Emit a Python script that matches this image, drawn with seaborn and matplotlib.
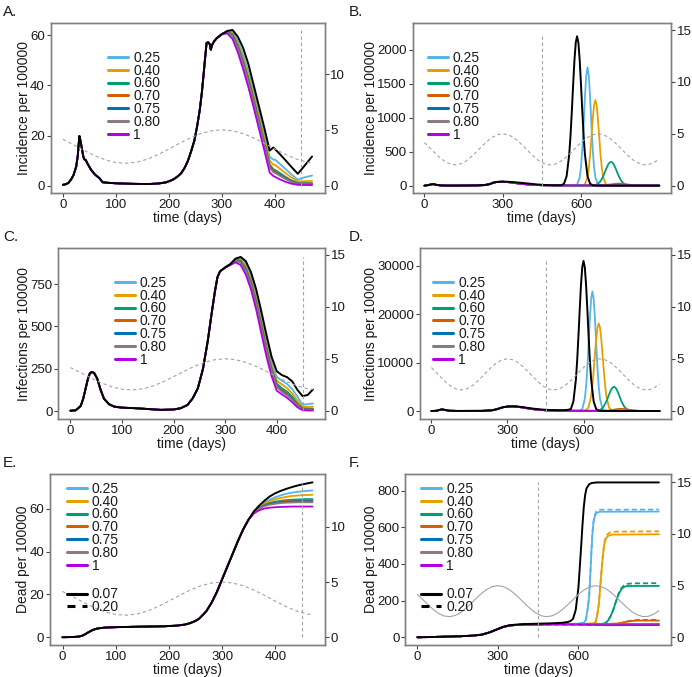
import matplotlib
matplotlib.use("Agg")
import matplotlib.pyplot as plt
import seaborn as sns
from matplotlib.lines import Line2D

# ---------------- data ----------------
levels = ["0.25", "0.40", "0.60", "0.70", "0.75", "0.80", "1"]
level_colors = ["#56B4E9", "#E69F00", "#009E73", "#D55E00", "#0072B2", "#8B7B7B", "#B400E0"]
ifr_labels = ["0.07", "0.20"]
vaccine_day = 450

season_t = [0, 20, 40, 60, 80, 100, 120, 140, 160, 180, 200, 220, 240, 260, 280, 300, 320, 340, 360, 380,
            400, 420, 440, 460, 470, 480, 500, 520, 540, 560, 580, 600, 620, 640, 660, 680, 700, 720, 740,
            760, 780, 800, 820, 840, 860, 880, 900]
season_v = [4.15, 3.66, 3.15, 2.68, 2.30, 2.07, 2.00, 2.11, 2.38, 2.79, 3.28, 3.79, 4.27, 4.66, 4.91, 5.00,
            4.91, 4.66, 4.27, 3.79, 3.28, 2.79, 2.38, 2.11, 2.04, 2.00, 2.07, 2.30, 2.68, 3.15, 3.66, 4.15,
            4.57, 4.86, 4.99, 4.95, 4.74, 4.38, 3.91, 3.40, 2.90, 2.47, 2.17, 2.01, 2.03, 2.23, 2.58]

# ---- Panel A: incidence, short horizon ----
A_t_base = [0, 5, 10, 15, 20, 25, 28, 31, 33, 35, 38, 40, 43, 47, 53, 60, 69, 75, 85, 100, 130, 160, 180,
            195, 207, 215, 223, 230, 236, 242, 248, 253, 258, 262, 265, 268, 271, 274, 277, 279, 281, 285]
A_v_base = [0.3, 0.5, 1.0, 2.3, 4.2, 7.6, 12, 19.8, 18, 15.6, 12, 10.5, 10.2, 8.5, 6.3, 4.5, 2.9, 1.3, 1.1,
            0.9, 0.7, 0.6, 0.8, 1.3, 2.3, 3.4, 4.9, 7.2, 10, 13.8, 18, 23.5, 30, 37, 43.6, 50.5, 57, 57.3,
            56.5, 54.3, 56, 57.6]
A_t_tail = [290, 300, 310, 320, 330, 340, 350, 360, 370, 380, 390, 397, 400, 410, 420, 430, 443, 450, 460, 470]
A_black = [58.9, 60.5, 61.8, 62.2, 59.5, 55, 48.5, 40, 31.5, 23, 14, 15.2, 14.6, 12.4, 10.1, 7.7, 4.7, 6.4, 9.0, 11.6]
A_025 = [58.9, 60.6, 61.8, 61.5, 57.8, 52.5, 45.5, 37.5, 29, 20.5, 11.5, 10.3, 10.4, 8.5, 6.6, 4.7, 2.3, 2.9, 3.5, 4.0]
A_040 = [58.9, 60.6, 61.6, 61.0, 56.8, 51, 44, 36, 27.5, 19, 10, 8.3, 8.3, 6.6, 5, 3.4, 1.6, 1.7, 1.8, 1.9]
A_060 = [58.9, 60.6, 61.4, 60.5, 56, 49.8, 42.8, 34.5, 26, 17.5, 8.5, 6.5, 6.3, 4.9, 3.5, 2.2, 1.0, 1.0, 1.0, 1.0]
A_070 = [58.9, 60.6, 61.3, 60.2, 55.5, 49.2, 42.2, 34, 25.5, 17, 8, 6.1, 5.9, 4.5, 3.2, 1.9, 0.8, 0.8, 0.8, 0.8]
A_075 = [58.9, 60.6, 61.2, 60.0, 55.2, 48.8, 41.7, 33.5, 25, 16.5, 7.6, 5.7, 5.5, 4.2, 2.9, 1.7, 0.7, 0.7, 0.7, 0.7]
A_080 = [58.9, 60.6, 61.1, 59.7, 54.8, 48.3, 41.2, 33, 24.5, 16, 7.2, 5.3, 5.1, 3.8, 2.6, 1.5, 0.5, 0.5, 0.5, 0.5]
A_100 = [58.8, 60.5, 60.8, 58.6, 53.2, 46.5, 39.2, 31, 22.5, 14, 5.2, 3.8, 3.5, 2.4, 1.5, 0.8, 0.3, 0.2, 0.2, 0.2]

# ---- Panel C: infections, short horizon ----
C_t_base = [0, 10, 20, 25, 30, 34, 38, 42, 46, 52, 58, 65, 75, 85, 100, 124, 150, 175, 200, 214, 227, 237,
            247, 257, 266, 273, 280, 285]
C_v_base = [2, 4, 30, 75, 140, 191, 225, 230, 225, 191, 130, 73, 40, 26, 20, 17, 12, 7, 9, 17, 36, 75, 134,
            250, 409, 560, 704, 790]
C_t_tail = [290, 300, 310, 320, 330, 340, 350, 360, 370, 380, 390, 400, 410, 420, 430, 440, 450, 460, 470]
C_black = [825, 848, 868, 900, 910, 885, 820, 720, 590, 450, 320, 235, 212, 200, 175, 125, 88, 95, 127]
C_025 = [825, 848, 868, 898, 902, 868, 796, 690, 556, 415, 288, 200, 180, 160, 130, 85, 38, 40, 45]
C_040 = [825, 848, 867, 895, 895, 855, 780, 670, 535, 395, 268, 180, 157, 135, 105, 62, 25, 24, 26]
C_060 = [825, 848, 866, 892, 888, 843, 765, 652, 515, 375, 250, 163, 135, 115, 86, 45, 16, 14, 14]
C_070 = [825, 848, 866, 890, 884, 837, 757, 643, 505, 366, 242, 155, 127, 106, 78, 39, 13, 11, 11]
C_075 = [825, 848, 865, 888, 880, 831, 750, 635, 497, 358, 235, 148, 120, 99, 72, 35, 11, 9, 9]
C_080 = [825, 848, 865, 886, 876, 825, 743, 627, 489, 350, 228, 141, 113, 93, 66, 31, 9, 7, 7]
C_100 = [825, 846, 862, 878, 862, 805, 718, 600, 460, 322, 205, 120, 98, 78, 52, 22, 5, 3, 3]

# ---- Panel E: dead, short horizon ----
E_t_base = [0, 20, 31, 38, 44, 50, 57, 63, 69, 80, 101, 130, 164, 190, 214, 230, 239, 250, 258, 270, 280,
            290, 300, 310, 320, 330, 340, 350]
E_v_base = [0, 0.1, 0.3, 0.8, 1.6, 2.5, 3.4, 3.9, 4.2, 4.5, 4.7, 4.85, 5.0, 5.1, 5.4, 5.9, 6.5, 7.6, 8.9,
            12, 16, 21, 27, 33, 39, 45, 50.5, 55]
E_t_tail = [360, 370, 380, 390, 400, 410, 420, 430, 440, 450, 460, 470]
E_black = [58.8, 61.5, 63.8, 65.8, 67.2, 68.3, 69.2, 70, 70.7, 71.3, 71.8, 72.3]
E_025 = [58.5, 61, 62.8, 64.3, 65.4, 66.2, 66.9, 67.4, 67.8, 68.1, 68.3, 68.5]
E_040 = [58.4, 60.7, 62.3, 63.5, 64.4, 65, 65.5, 65.9, 66.1, 66.3, 66.4, 66.5]
E_060 = [58.3, 60.4, 61.8, 62.7, 63.3, 63.7, 64, 64.2, 64.3, 64.4, 64.5, 64.5]
E_070 = [58.3, 60.3, 61.6, 62.4, 63, 63.3, 63.6, 63.8, 63.9, 64, 64, 64]
E_075 = [58.2, 60.2, 61.4, 62.2, 62.7, 63, 63.2, 63.4, 63.5, 63.5, 63.5, 63.5]
E_080 = [58.2, 60.1, 61.2, 61.9, 62.3, 62.6, 62.8, 62.9, 63, 63, 63, 63]
E_100 = [57.8, 59.3, 60.1, 60.5, 60.7, 60.8, 60.9, 61, 61, 61, 61, 61]

# ---- Panel B: incidence, long horizon ----
B_t_base = [0, 15, 25, 35, 45, 60, 80, 120, 200, 230, 250, 265, 280, 300]
B_v_base = [0, 8, 18, 22, 12, 4, 1, 0.5, 3, 8, 22, 45, 55, 58]
B_t_black = [320, 340, 360, 380, 400, 430, 460, 490, 510, 525, 535, 545, 555, 560, 565, 570, 575, 580, 585,
             590, 595, 600, 605, 610, 615, 625, 635, 645, 660, 700, 800, 900]
B_v_black = [57, 52, 45, 38, 30, 18, 10, 6, 5, 6, 29, 139, 464, 746, 1102, 1492, 1850, 2108, 2200, 2108,
             1850, 1492, 1102, 746, 464, 139, 29, 4, 1, 0.5, 0.2, 0.1]
B_t_pre = [320, 340, 360, 380, 400, 430, 460, 500, 540]
B_v_pre = [52, 42, 32, 23, 16, 9, 5, 3, 2.5]
B_t_025 = [565, 575, 585, 595, 600, 605, 610, 615, 620, 625, 630, 635, 640, 645, 650, 655, 665, 675, 700, 900]
B_v_025 = [2.5, 3, 17, 122, 273, 532, 894, 1295, 1616, 1740, 1616, 1295, 894, 532, 273, 122, 15, 1, 0.3, 0.1]
B_t_040 = [595, 605, 615, 625, 630, 635, 640, 645, 650, 655, 660, 665, 670, 675, 680, 685, 695, 705, 720, 900]
B_v_040 = [2.5, 3, 21, 127, 256, 454, 709, 977, 1182, 1260, 1182, 977, 709, 454, 256, 127, 21, 2, 0.3, 0.1]
B_t_060 = [580, 640, 655, 665, 675, 685, 690, 695, 700, 705, 710, 715, 720, 725, 730, 735, 740, 745, 755,
           765, 775, 790, 820, 900]
B_v_060 = [2.5, 2, 8, 26, 67, 138, 183, 232, 277, 316, 341, 350, 341, 316, 277, 232, 183, 138, 67, 26, 8, 1,
           0.3, 0.1]
B_t_070 = [600, 680, 700, 720, 735, 745, 755, 770, 790, 810, 840, 900]
B_v_070 = [2.5, 4, 10, 20, 27, 30, 28, 21, 11, 4, 1, 0.2]
B_t_075 = [600, 750, 790, 830, 900]
B_v_075 = [2.5, 2.5, 4, 2.5, 0.5]
B_t_080 = [600, 900]
B_v_080 = [2.5, 0.5]
B_t_100 = [600, 900]
B_v_100 = [2, 0.3]

# ---- Panel D: infections, long horizon ----
D_t_base = [0, 20, 30, 42, 55, 70, 100, 200, 240, 260, 280, 300, 320]
D_v_base = [0, 50, 200, 340, 200, 60, 20, 30, 150, 400, 750, 920, 960]
D_t_black = [340, 360, 380, 400, 430, 460, 490, 510, 530, 540, 550, 560, 570, 575, 580, 585, 590, 595, 600,
             605, 610, 615, 620, 625, 630, 640, 650, 660, 680, 700, 900]
D_v_black = [920, 800, 650, 500, 330, 220, 180, 170, 200, 260, 412, 1953, 6541, 10509, 15531, 21018, 26071,
             29698, 31000, 29698, 26071, 21018, 15531, 10509, 6541, 1953, 412, 62, 10, 2, 0]
D_t_pre = [340, 360, 380, 400, 430, 460, 500, 540]
D_v_pre = [880, 720, 540, 380, 220, 120, 70, 50]
D_t_025 = [575, 585, 595, 605, 610, 615, 620, 625, 630, 635, 640, 645, 650, 655, 660, 665, 675, 685, 695, 720, 900]
D_v_025 = [45, 60, 417, 2495, 5014, 8892, 13906, 19143, 23169, 24700, 23169, 19143, 13906, 8892, 5014, 2495,
           417, 42, 2, 1, 0]
D_t_040 = [600, 610, 620, 630, 635, 640, 645, 650, 655, 660, 665, 670, 675, 680, 685, 690, 700, 710, 720, 740, 900]
D_v_040 = [40, 150, 796, 3113, 5340, 8290, 11656, 14896, 17231, 18100, 17231, 14896, 11656, 8290, 5340,
           3113, 796, 138, 16, 2, 0]
D_t_060 = [600, 645, 660, 670, 680, 690, 695, 700, 705, 710, 715, 720, 725, 730, 735, 740, 745, 750, 760,
           770, 780, 795, 820, 900]
D_v_060 = [40, 30, 120, 375, 960, 1975, 2620, 3310, 3960, 4510, 4870, 5000, 4870, 4510, 3960, 3310, 2620,
           1975, 960, 375, 120, 15, 2, 0]
D_t_070 = [600, 680, 700, 720, 735, 750, 765, 780, 800, 820, 850, 900]
D_v_070 = [40, 40, 110, 270, 400, 450, 400, 270, 110, 30, 5, 0]
D_t_075 = [600, 760, 790, 820, 900]
D_v_075 = [40, 30, 60, 30, 2]
D_t_080 = [600, 900]
D_v_080 = [35, 1]
D_t_100 = [600, 900]
D_v_100 = [20, 0]

# ---- Panel F: dead, long horizon (solid = 0.07, dashed = 0.20) ----
F_t_black = [0, 50, 100, 150, 200, 240, 270, 300, 320, 340, 360, 380, 400, 450, 500, 540, 560, 570, 580,
             590, 600, 605, 610, 615, 620, 625, 630, 640, 650, 670, 900]
F_v_black = [0, 1, 3, 5, 8, 14, 27, 45, 57, 64, 68, 70, 72, 74, 76, 79, 83, 88, 100, 149, 270, 380, 490,
             610, 710, 775, 812, 835, 842, 845, 845]
F_t_base = [0, 50, 100, 150, 200, 240, 270, 300, 320, 340, 360, 380, 400, 450, 500]
F_v_base = [0, 1, 3, 5, 8, 14, 27, 45, 56, 63, 66, 68, 69, 70, 71]
F_t_025 = [560, 600, 615, 622, 628, 634, 640, 644, 648, 652, 656, 660, 667, 680, 900]
F_v_025 = [72, 74, 77, 82, 95, 150, 222, 330, 458, 560, 625, 655, 678, 685, 686]
F_d_025 = [72, 74, 77, 82, 95, 150, 222, 330, 458, 562, 630, 662, 688, 696, 697]
F_t_040 = [600, 640, 655, 664, 670, 676, 681, 686, 691, 696, 702, 710, 725, 900]
F_v_040 = [72, 74, 76, 82, 120, 180, 270, 360, 440, 505, 538, 553, 560, 562]
F_d_040 = [72, 74, 76, 82, 120, 180, 270, 362, 445, 510, 546, 565, 576, 578]
F_t_060 = [650, 690, 700, 710, 720, 730, 740, 750, 760, 770, 780, 800, 900]
F_v_060 = [72, 73, 76, 90, 115, 150, 195, 235, 262, 275, 279, 280, 280]
F_d_060 = [72, 73, 76, 90, 115, 150, 196, 238, 268, 283, 291, 294, 295]
F_t_070 = [700, 740, 760, 780, 800, 820, 900]
F_v_070 = [72, 74, 78, 85, 89, 91, 91]
F_d_070 = [72, 74, 78, 86, 91, 94, 95]
F_t_075 = [700, 900]
F_v_075 = [72, 72.5]
F_d_075 = [72, 73.5]
F_t_080 = [700, 900]
F_v_080 = [71, 71.5]
F_d_080 = [71, 72]
F_t_100 = [700, 900]
F_v_100 = [66, 66]
F_d_100 = [66, 66.5]

# ---------------- assemble series ----------------
def short_series(tb, vb, tt, tails):
    return [(tb + tt, vb + v) for v in tails]

A_series = short_series(A_t_base, A_v_base, A_t_tail, [A_025, A_040, A_060, A_070, A_075, A_080, A_100])
A_blk = (A_t_base + A_t_tail, A_v_base + A_black)
C_series = short_series(C_t_base, C_v_base, C_t_tail, [C_025, C_040, C_060, C_070, C_075, C_080, C_100])
C_blk = (C_t_base + C_t_tail, C_v_base + C_black)
E_series = short_series(E_t_base, E_v_base, E_t_tail, [E_025, E_040, E_060, E_070, E_075, E_080, E_100])
E_blk = (E_t_base + E_t_tail, E_v_base + E_black)

B_series = [(B_t_base + B_t_pre + t, B_v_base + B_v_pre + v) for t, v in
            [(B_t_025, B_v_025), (B_t_040, B_v_040), (B_t_060, B_v_060), (B_t_070, B_v_070),
             (B_t_075, B_v_075), (B_t_080, B_v_080), (B_t_100, B_v_100)]]
B_blk = (B_t_base + B_t_black, B_v_base + B_v_black)
D_series = [(D_t_base + D_t_pre + t, D_v_base + D_v_pre + v) for t, v in
            [(D_t_025, D_v_025), (D_t_040, D_v_040), (D_t_060, D_v_060), (D_t_070, D_v_070),
             (D_t_075, D_v_075), (D_t_080, D_v_080), (D_t_100, D_v_100)]]
D_blk = (D_t_base + D_t_black, D_v_base + D_v_black)
F_tails = [(F_t_025, F_v_025, F_d_025), (F_t_040, F_v_040, F_d_040), (F_t_060, F_v_060, F_d_060),
           (F_t_070, F_v_070, F_d_070), (F_t_075, F_v_075, F_d_075), (F_t_080, F_v_080, F_d_080),
           (F_t_100, F_v_100, F_d_100)]
F_series = [(F_t_base + t, F_v_base + v) for t, v, d in F_tails]
F_dashed = [(F_t_base + t, F_v_base + d) for t, v, d in F_tails]
F_blk = (F_t_black, F_v_black)

# ---------------- style ----------------
sns.set_style("white")
plt.rcParams['font.family'] = ['Liberation Sans', 'DejaVu Sans']
plt.rcParams['axes.linewidth'] = 1.0

W, H = 692, 677
fig = plt.figure(figsize=(W / 100, H / 100), dpi=100)

GRAY_FRAME = "#808080"
SEASON_COL = "#A3A3A3"
DASH_SEASON = (0, (3, 2.5))
TXT = "#1A1A1A"
TICK_FS = 9.5


def px_axes(x0, y0, x1, y1):
    return fig.add_axes([x0 / W, 1 - y1 / H, (x1 - x0) / W, (y1 - y0) / H])


def style_axes(ax, ax2):
    for a in (ax, ax2):
        for s in a.spines.values():
            s.set_color(GRAY_FRAME)
            s.set_linewidth(1.0)
    ax.tick_params(axis="both", which="both", bottom=True, left=True, direction="out", length=2.6,
                   width=0.8, color="#444444", pad=1.5, labelsize=TICK_FS, labelcolor=TXT)
    ax2.tick_params(axis="y", right=True, direction="out", length=2.6, width=0.8, color="#444444",
                    pad=1.5, labelsize=TICK_FS, labelcolor=TXT)


def panel(box, letter, series, blk, xlim, xticks, ylim, yticks, ylim2, yticks2, ylabel, leg_anchor,
          season_tmax, dashed=None, season_solid=False, ifr_anchor=None):
    ax = px_axes(*box)
    ax2 = ax.twinx()
    for (t, v), c in zip(series, level_colors):
        sns.lineplot(x=t, y=v, ax=ax, color=c, linewidth=1.3, estimator=None, sort=False, legend=False)
    if dashed is not None:
        for (t, v), c in zip(dashed, level_colors):
            sns.lineplot(x=t, y=v, ax=ax, color=c, linewidth=1.3, estimator=None, sort=False, legend=False,
                         linestyle=(0, (2.8, 1.7)))
    sns.lineplot(x=blk[0], y=blk[1], ax=ax, color="black", linewidth=1.4, estimator=None, sort=False,
                 legend=False)
    ax.plot([vaccine_day, vaccine_day], [0, max(blk[1])], color=SEASON_COL, lw=0.8, linestyle=DASH_SEASON)
    st = [t for t in season_t if t <= season_tmax]
    sv = season_v[:len(st)]
    if season_solid:
        sns.lineplot(x=st, y=sv, ax=ax2, color=SEASON_COL, linewidth=0.8, estimator=None, sort=False,
                     legend=False)
    else:
        sns.lineplot(x=st, y=sv, ax=ax2, color=SEASON_COL, linewidth=0.8, estimator=None, sort=False,
                     legend=False, linestyle=DASH_SEASON)
    ax.set_xlim(*xlim)
    ax.set_ylim(*ylim)
    ax2.set_ylim(*ylim2)
    ax.set_xticks(xticks)
    ax.set_xticklabels([str(x) for x in xticks])
    ax.set_yticks(yticks)
    ax.set_yticklabels([str(y) for y in yticks])
    ax2.set_yticks(yticks2)
    ax2.set_yticklabels([str(y) for y in yticks2])
    ax.set_xlabel("time (days)", fontsize=10, color=TXT, labelpad=0)
    ax.set_ylabel(ylabel, fontsize=10, color=TXT, labelpad=-0.5)
    ax2.set_ylabel("")
    style_axes(ax, ax2)

    handles = [Line2D([], [], color=c, lw=2.2) for c in level_colors]
    leg = ax2.legend(handles, levels, loc="upper left",
                     bbox_to_anchor=(leg_anchor[0] / W, 1 - leg_anchor[1] / H),
                     bbox_transform=fig.transFigure, frameon=False, fontsize=10, handlelength=1.45,
                     handletextpad=0.35, labelspacing=-0.085, borderpad=0, borderaxespad=0)
    for t in leg.get_texts():
        t.set_color(TXT)
    if ifr_anchor is not None:
        ax2.add_artist(leg)
        h2 = [Line2D([], [], color="black", lw=2.2),
              Line2D([], [], color="black", lw=2.2, linestyle=(0, (2.6, 2.3)))]
        leg2 = ax2.legend(h2, ifr_labels, loc="upper left",
                          bbox_to_anchor=(ifr_anchor[0] / W, 1 - ifr_anchor[1] / H),
                          bbox_transform=fig.transFigure, frameon=False, fontsize=10, handlelength=1.45,
                          handletextpad=0.35, labelspacing=-0.085, borderpad=0, borderaxespad=0)
        for t in leg2.get_texts():
            t.set_color(TXT)
    x0, y0 = box[0], box[1]
    lx = 3 if x0 < 300 else 349
    fig.text(lx / W, 1 - (y0 - 7) / H, letter, fontsize=11, color=TXT, va="baseline", ha="left")
    return ax


short_xlim = (-23.5, 493.5)
long_xlim = (-45, 945)

panel((50.5, 22.7, 324.5, 193.3), "A.", A_series, A_blk, short_xlim, [0, 100, 200, 300, 400],
      (-3.1, 65.1), [0, 20, 40, 60], (-0.69, 14.6), [0, 5, 10], "Incidence per 100000",
      (108.3, 50.8), 470)
panel((412.7, 22.7, 671, 193.3), "B.", B_series, B_blk, long_xlim, [0, 300, 600],
      (-113, 2400), [0, 500, 1000, 1500, 2000], (-0.74, 15.71), [0, 5, 10, 15], "Incidence per 100000",
      (427.7, 50.8), 900)
panel((58.3, 248.3, 325, 419), "C.", C_series, C_blk, short_xlim, [0, 100, 200, 300, 400],
      (-47, 961), [0, 250, 500, 750], (-0.8, 15.64), [0, 5, 10, 15], "Infections per 100000",
      (115, 275.8), 470)
panel((420, 248.3, 671, 419), "D.", D_series, D_blk, long_xlim, [0, 300, 600],
      (-1650, 33600), [0, 10000, 20000, 30000], (-0.8, 15.64), [0, 5, 10, 15], "Infections per 100000",
      (433.3, 275.8), 900)
panel((50, 474, 325, 645), "E.", E_series, E_blk, short_xlim, [0, 100, 200, 300, 400],
      (-3.63, 76.2), [0, 20, 40, 60], (-0.69, 14.76), [0, 5, 10], "Dead per 100000",
      (66.7, 481.8), 470, ifr_anchor=(66.7, 587.5))
panel((405.3, 474, 671, 645), "F.", F_series, F_blk, long_xlim, [0, 300, 600],
      (-42.4, 891), [0, 200, 400, 600, 800], (-0.74, 15.8), [0, 5, 10, 15], "Dead per 100000",
      (421, 481.8), 900, dashed=F_dashed, season_solid=True, ifr_anchor=(421, 587.5))

fig.savefig("out.png", dpi=100)
